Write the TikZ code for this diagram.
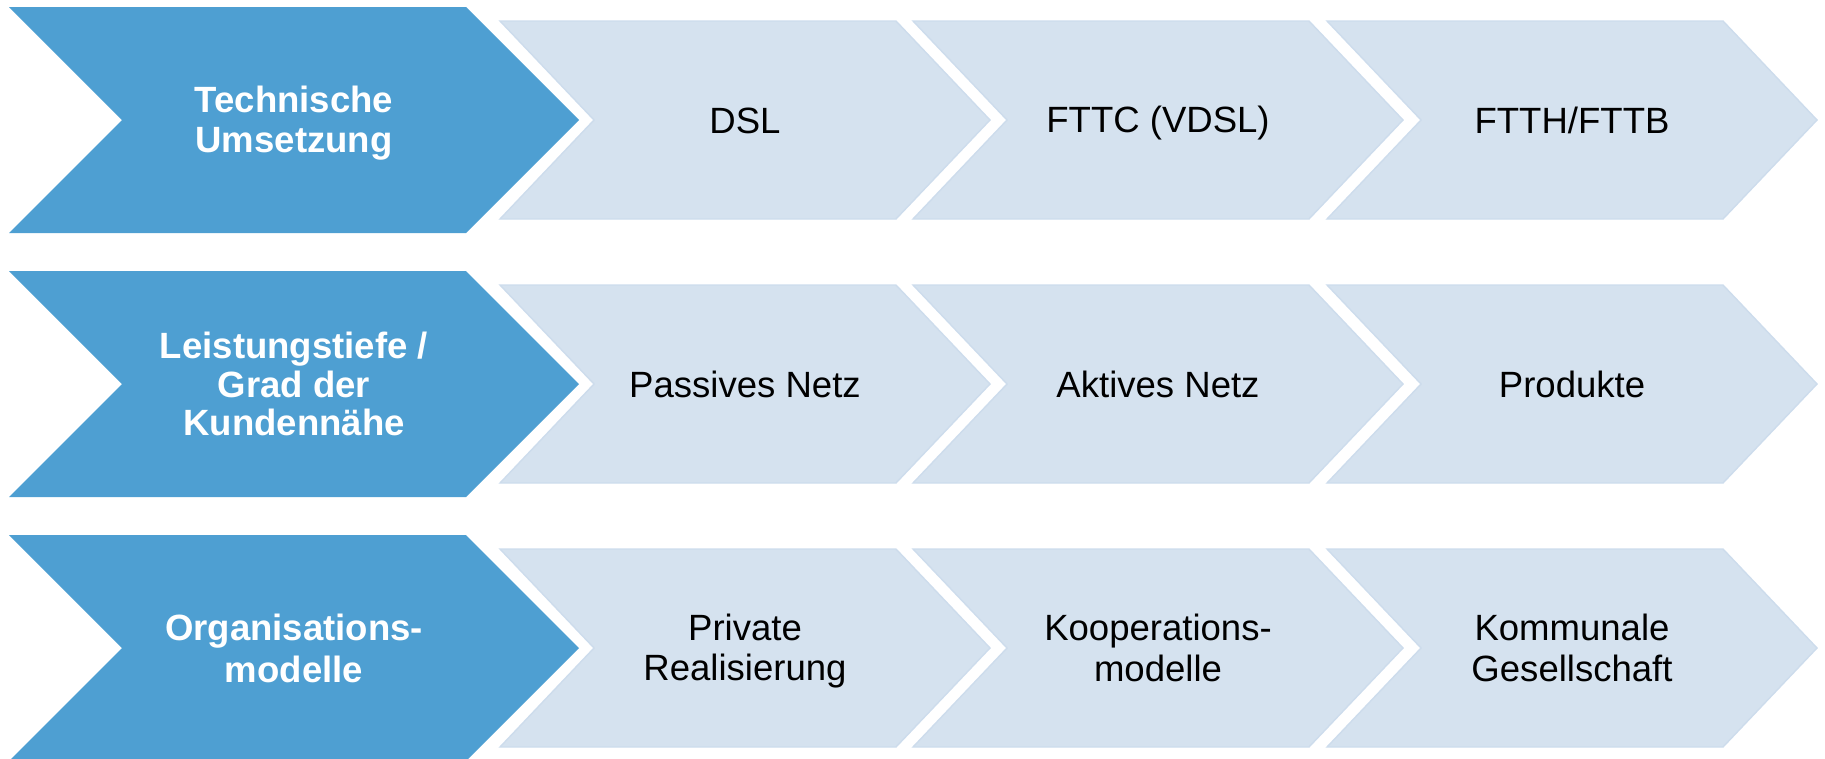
\documentclass[tikz,border=0pt]{standalone}
\usepackage{fontspec}
\setmainfont{Liberation Sans}
\usepackage{tikz}
\newcommand{\figurescale}{0.02cm}
\newcommand{\textstrut}{\rule[-3.55pt]{0pt}{22pt}}
\definecolor{darkblue}{HTML}{4E9FD2}
\definecolor{lightblue}{HTML}{D5E2EF}
\definecolor{lightedge}{HTML}{CDDCEC}
\tikzset{
	darkfill/.style={fill=darkblue},
	lightfill/.style={fill=lightblue, draw=lightedge, line width=0.8pt},
	darktext/.style={text=white, font=\fontsize{20.8}{21.7}\selectfont\bfseries, align=center},
	lighttext/.style={text=black, font=\fontsize{20.8}{21.7}\selectfont, align=center},
}
% name, left x, middle y, body width, half height, tip depth, fill, text style, text
\newcommand{\makechevron}[9]{
	\path[#7] (#2,{#3-#5}) -- ({#2+#4},{#3-#5}) -- ({#2+#4+#6},#3) -- ({#2+#4},{#3+#5})
		-- (#2,{#3+#5}) -- ({#2+#6},#3) -- cycle;
	\node[#8] (#1) at ({#2+(#4+#6)/2},#3) {\textstrut#9\textstrut};
}

\begin{document}
\begin{tikzpicture}[x=\figurescale,y=-\figurescale]
	\useasboundingbox (0,0) rectangle (1825,758);

	\makechevron{tech}{9}{120}{457}{113}{113}{darkfill}{darktext}{Technische\\Umsetzung}
	\makechevron{dsl}{500}{120}{396}{99}{94}{lightfill}{lighttext}{DSL}
	\makechevron{fttc}{913}{120}{396}{99}{94}{lightfill}{lighttext}{FTTC (VDSL)}
	\makechevron{ftth}{1327}{120}{396}{99}{94}{lightfill}{lighttext}{FTTH/FTTB}

	\makechevron{leist}{9}{384}{457}{113}{113}{darkfill}{darktext}{Leistungstiefe /\\Grad der\\Kundennähe}
	\makechevron{passiv}{500}{384}{396}{99}{94}{lightfill}{lighttext}{Passives Netz}
	\makechevron{aktiv}{913}{384}{396}{99}{94}{lightfill}{lighttext}{Aktives Netz}
	\makechevron{produkte}{1327}{384}{396}{99}{94}{lightfill}{lighttext}{Produkte}

	\makechevron{orga}{9}{648}{457}{113}{113}{darkfill}{darktext}{Organisations-\\modelle}
	\makechevron{privat}{500}{648}{396}{99}{94}{lightfill}{lighttext}{Private\\Realisierung}
	\makechevron{koop}{913}{648}{396}{99}{94}{lightfill}{lighttext}{Kooperations-\\modelle}
	\makechevron{kommunal}{1327}{648}{396}{99}{94}{lightfill}{lighttext}{Kommunale\\Gesellschaft}
\end{tikzpicture}
\end{document}
